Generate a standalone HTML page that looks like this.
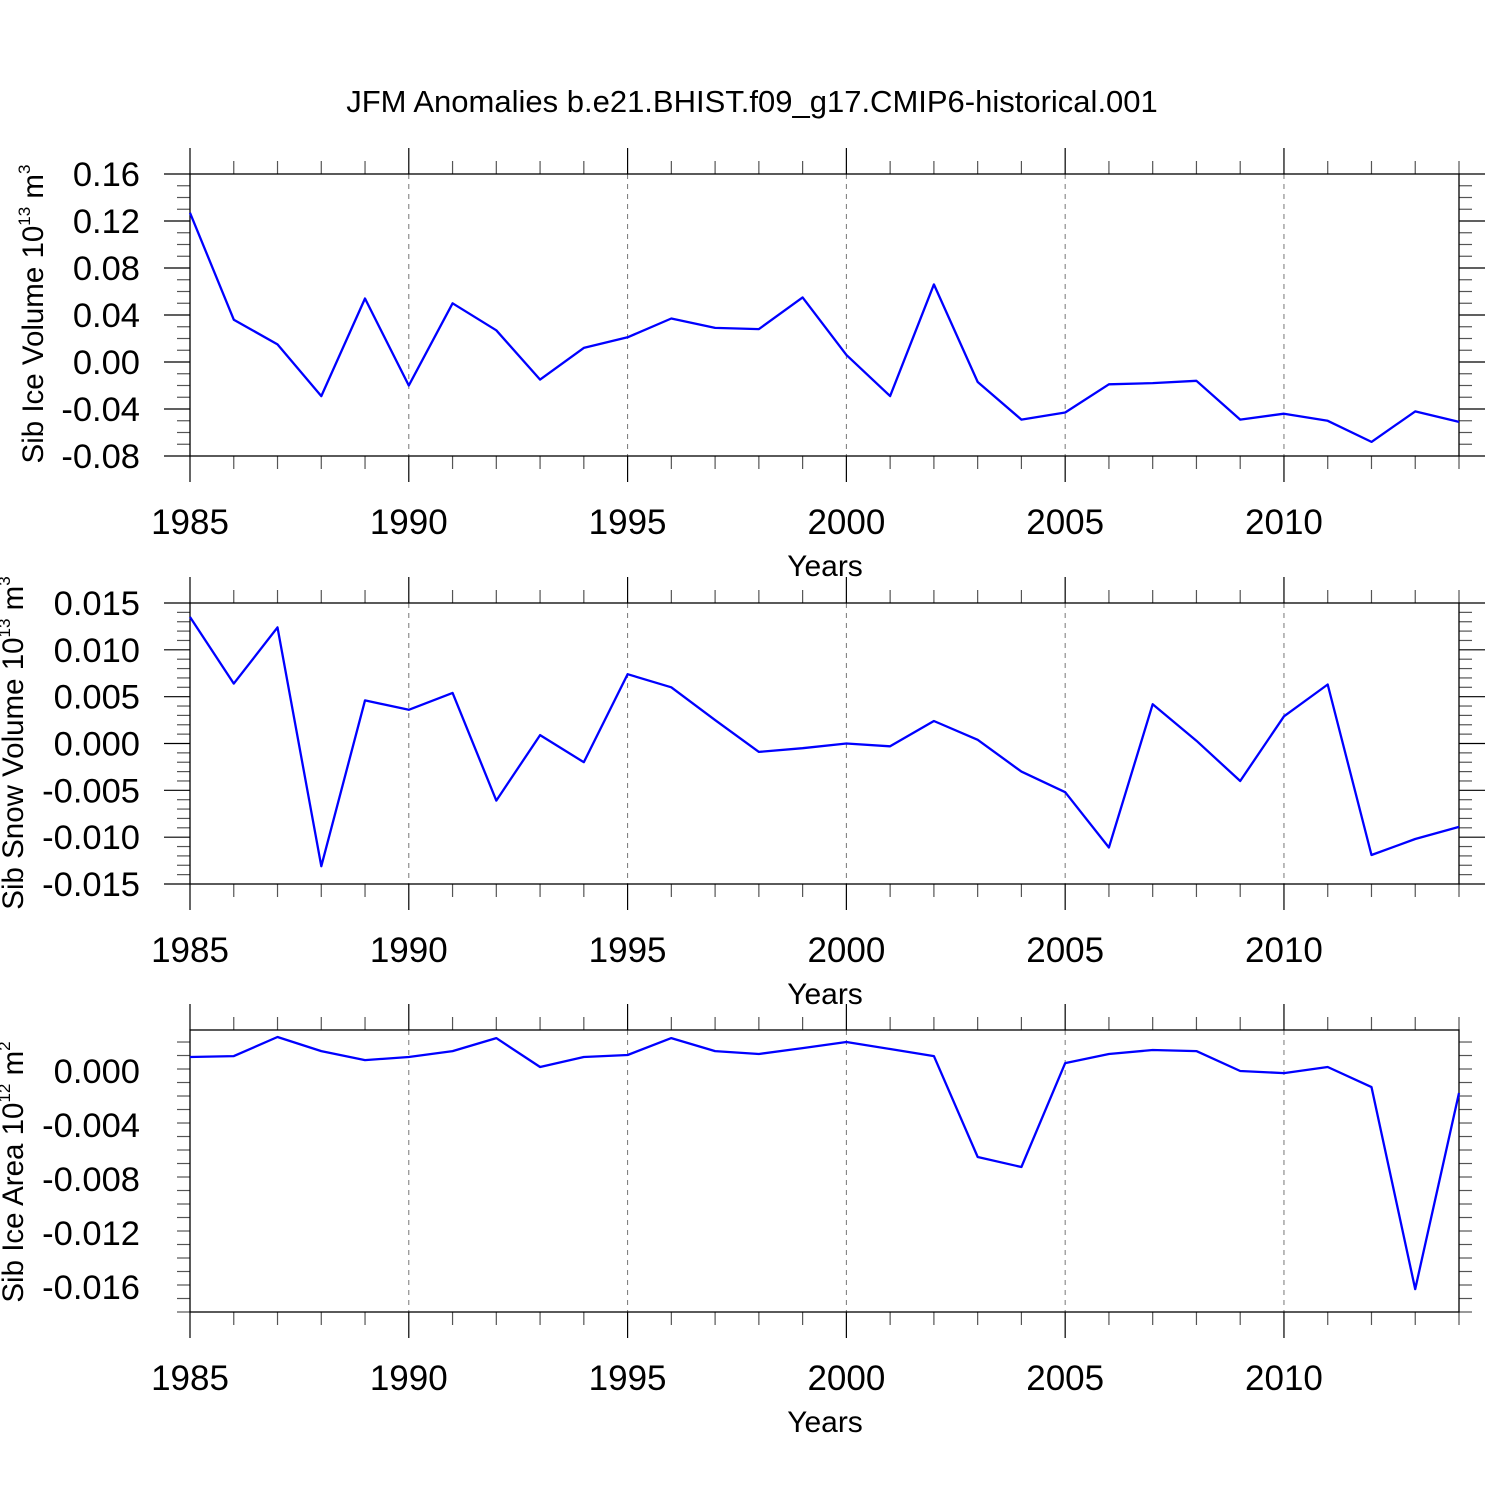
<!DOCTYPE html>
<html><head><meta charset="utf-8"><style>
html,body{margin:0;padding:0;background:#fff;}
svg{display:block;font-family:"Liberation Sans",sans-serif;}
</style></head><body>
<svg id="c" width="1500" height="1500" viewBox="0 0 1500 1500" xmlns="http://www.w3.org/2000/svg">
<text x="752" y="112" font-size="31" text-anchor="middle">JFM Anomalies b.e21.BHIST.f09_g17.CMIP6-historical.001</text>
</svg>
<script>
const years = [1985,1986,1987,1988,1989,1990,1991,1992,1993,1994,1995,1996,1997,1998,1999,2000,2001,2002,2003,2004,2005,2006,2007,2008,2009,2010,2011,2012,2013,2014];
const iceVolume = [0.127,0.036,0.015,-0.029,0.054,-0.020,0.050,0.027,-0.015,0.012,0.021,0.037,0.029,0.028,0.055,0.006,-0.029,0.066,-0.017,-0.049,-0.043,-0.019,-0.018,-0.016,-0.049,-0.044,-0.050,-0.068,-0.042,-0.051];
const snowVolume = [0.0135,0.0064,0.0124,-0.0131,0.0046,0.0036,0.0054,-0.0061,0.0009,-0.0020,0.0074,0.0060,0.0025,-0.0009,-0.0005,0.0000,-0.0003,0.0024,0.0004,-0.0030,-0.0052,-0.0111,0.0042,0.0003,-0.0040,0.0029,0.0063,-0.0119,-0.0102,-0.0089];
const iceArea = [0.00104,0.00111,0.00252,0.00148,0.00081,0.00104,0.00148,0.00244,0.0003,0.00104,0.00119,0.00244,0.00148,0.00126,0.0017,0.00215,0.00163,0.00111,-0.00637,-0.00711,0.00059,0.00126,0.00156,0.00148,0.0,-0.00015,0.0003,-0.00119,-0.01615,-0.00163];
const xTicks = [1985,1990,1995,2000,2005,2010];
const ticks1 = ["0.16","0.12","0.08","0.04","0.00","-0.04","-0.08"];
const ticks2 = ["0.015","0.010","0.005","0.000","-0.005","-0.010","-0.015"];
const ticks3 = ["0.000","-0.004","-0.008","-0.012","-0.016"];

const svg = document.getElementById('c');
const NS = 'http://www.w3.org/2000/svg';
const X0=190, X1=1459;
function xs(v){return X0+(v-1985)/(2014-1985)*(X1-X0);}
function mk(tag, attrs){const e=document.createElementNS(NS,tag);for(const k in attrs)e.setAttribute(k,attrs[k]);svg.appendChild(e);return e;}

function panel(id, top, bot, ymin, ymax, ticks, minorStep, data, title, sup2, tx, ty){
  const ys = v => bot-(v-ymin)/(ymax-ymin)*(bot-top);
  for(const t of xTicks){ if(t===1985) continue;
    const g=mk('line',{x1:xs(t),x2:xs(t),y1:top,y2:bot,stroke:'#777','stroke-width':1,'stroke-dasharray':'5,5'});
    
    
  }
  for(let y=1985;y<=2014;y++){
    const major = xTicks.includes(y); const L = major?26:13;
    const c = major?'#000':'#555';
    const a=mk('line',{x1:xs(y),x2:xs(y),y1:top-L,y2:top,stroke:c,'stroke-width':1.2});
    
    
    const b=mk('line',{x1:xs(y),x2:xs(y),y1:bot,y2:bot+L,stroke:c,'stroke-width':1.2});
    
    
  }
  for(const t of xTicks){
    const tl=mk('text',{x:xs(t),y:bot+78,'font-size':35,'text-anchor':'middle'});
    tl.textContent=t;
    
    
  }
  const xt=mk('text',{x:825,y:bot+120,'font-size':30,'text-anchor':'middle'});
  xt.textContent='Years';
  
  
  const n = Math.round((ymax-ymin)/minorStep);
  const majVals = ticks.map(Number);
  for(let i=0;i<=n;i++){
    const v = ymin+i*minorStep; const y=ys(v);
    if(y<top-0.5||y>bot+0.5) continue;
    const major = majVals.some(m=>Math.abs(m-v)<minorStep/10);
    const L = major?26:13; const c = major?'#000':'#555';
    const a=mk('line',{x1:X0-L,x2:X0,y1:y,y2:y,stroke:c,'stroke-width':1.2});
    
    
    const b=mk('line',{x1:X1,x2:X1+L,y1:y,y2:y,stroke:c,'stroke-width':1.2});
    
    
  }
  for(const t of ticks){
    const tl=mk('text',{x:140,y:ys(Number(t))+12,'font-size':34.5,'text-anchor':'end'});
    tl.textContent=t;
    
    
  }
  const r=mk('rect',{x:X0,y:top,width:X1-X0,height:bot-top,fill:'none',stroke:'#000','stroke-width':1.3});
  
  
  const pts = data.map((v,i)=>xs(years[i]).toFixed(1)+','+ys(v).toFixed(1)).join(' ');
  const pl=mk('polyline',{points:pts,fill:'none',stroke:'#0000ff','stroke-width':2.3,'stroke-linejoin':'round'});
  
  
  const t=mk('text',{x:0,y:0,'font-size':29.5,'text-anchor':'middle',transform:'translate('+tx+','+ty+') rotate(-90)'});
  
  
  t.innerHTML = title+'<tspan font-size="17" dy="-13">'+sup2[0]+'</tspan><tspan dy="13"> m</tspan><tspan font-size="17" dy="-13">'+sup2[1]+'</tspan>';
}
panel('ice-volume-panel',174,456,-0.08,0.16,ticks1,0.01,iceVolume,'Sib Ice Volume 10',['13','3'],43,314);
panel('snow-volume-panel',603,884,-0.015,0.015,ticks2,0.001,snowVolume,'Sib Snow Volume 10',['13','3'],23,743);
panel('ice-area-panel',1030,1312,-0.01785,0.00304,ticks3,0.001,iceArea,'Sib Ice Area 10',['12','2'],23,1172);
</script>
</body></html>
